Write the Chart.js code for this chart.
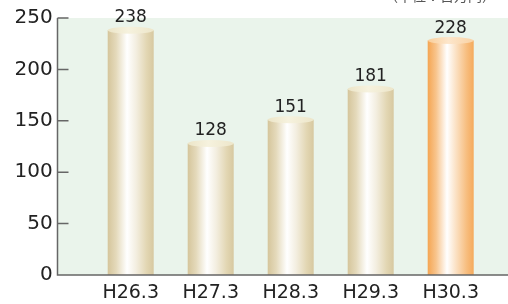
<!DOCTYPE html>
<html><head><meta charset="utf-8">
<script src="https://cdn.jsdelivr.net/npm/chart.js@4/dist/chart.umd.min.js"></script>
<style>html,body{margin:0;padding:0;background:#fff;overflow:hidden}</style>
</head><body>
<canvas id="c" width="508" height="304"></canvas>
<script>
const categories = ['H26.3', 'H27.3', 'H28.3', 'H29.3', 'H30.3'];
const values = [238, 128, 151, 181, 228];
const yTicks = [0, 50, 100, 150, 200, 250];
const unitLabel = '（単位：百万円）';
const highlightIndex = 4;

const BAR_PCT = 0.575;
const AXIS_X = 57.5;
const FONT = "'DejaVu Sans', sans-serif";
const tanStops = [[0,'#d5c59b'],[0.18,'#e4d9ba'],[0.42,'#ffffff'],[0.62,'#f3eee0'],[0.85,'#e2d6b2'],[1,'#d7c8a0']];
const orangeStops = [[0,'#f5a552'],[0.18,'#f8c48c'],[0.42,'#ffffff'],[0.62,'#fbe0c2'],[0.85,'#f7bd7e'],[1,'#f5aa5c']];

function barFill(c) {
  const chart = c.chart, xs = chart.scales && chart.scales.x;
  const i = c.dataIndex;
  const fallback = i === highlightIndex ? '#f8c48c' : '#e4d9ba';
  if (!xs || i === undefined) return fallback;
  const cx = xs.getPixelForValue(i);
  const w = xs.width / categories.length * BAR_PCT;
  if (!isFinite(cx) || !isFinite(w) || w <= 0) return fallback;
  const g = chart.ctx.createLinearGradient(cx - w / 2, 0, cx + w / 2, 0);
  (i === highlightIndex ? orangeStops : tanStops).forEach(s => g.addColorStop(s[0], s[1]));
  return g;
}

const decor = {
  id: 'decor',
  beforeDraw(chart) {
    const {ctx, scales: {y}} = chart;
    const top = y.getPixelForValue(yTicks[yTicks.length - 1]);
    const bot = y.getPixelForValue(0);
    ctx.save();
    ctx.fillStyle = '#eaf4eb';
    ctx.fillRect(AXIS_X, top, chart.width - AXIS_X, bot - top);
    ctx.fillStyle = '#555';
    ctx.font = "14px 'Noto Sans CJK JP', sans-serif";
    ctx.textAlign = 'right';
    ctx.textBaseline = 'bottom';
    ctx.fillText(unitLabel, 496, 3);
    ctx.restore();
  },
  afterDatasetsDraw(chart) {
    const {ctx, scales: {y}} = chart;
    const meta = chart.getDatasetMeta(0);
    ctx.save();
    meta.data.forEach((bar, i) => {
      const hl = i === highlightIndex;
      const w = bar.width;
      if (!isFinite(w) || !isFinite(bar.x)) return;
      const g = ctx.createLinearGradient(bar.x - w / 2, 0, bar.x + w / 2, 0);
      if (hl) { g.addColorStop(0, '#f9cf9c'); g.addColorStop(0.45, '#fde6cb'); g.addColorStop(1, '#f9d2a4'); }
      else { g.addColorStop(0, '#ece5c8'); g.addColorStop(0.45, '#f6f2de'); g.addColorStop(1, '#ede6ca'); }
      ctx.fillStyle = g;
      ctx.beginPath();
      ctx.ellipse(bar.x, bar.y, w / 2, 3.5, 0, 0, Math.PI * 2);
      ctx.fill();
      ctx.fillStyle = '#222';
      ctx.font = '17px ' + FONT;
      ctx.textAlign = 'center';
      ctx.textBaseline = 'alphabetic';
      ctx.fillText(String(values[i]), bar.x, bar.y - 8);
    });
    const top = y.getPixelForValue(yTicks[yTicks.length - 1]);
    const bot = y.getPixelForValue(0);
    ctx.strokeStyle = '#666';
    ctx.lineWidth = 1.5;
    ctx.beginPath();
    ctx.moveTo(AXIS_X, top);
    ctx.lineTo(AXIS_X, bot);
    ctx.lineTo(chart.width, bot);
    yTicks.forEach(t => {
      const py = y.getPixelForValue(t);
      ctx.moveTo(AXIS_X, py);
      ctx.lineTo(AXIS_X + 11, py);
    });
    ctx.stroke();
    ctx.restore();
  }
};

new Chart(document.getElementById('c'), {
  type: 'bar',
  data: {
    labels: categories,
    datasets: [{
      data: values,
      backgroundColor: barFill,
      borderWidth: 0,
      barPercentage: BAR_PCT,
      categoryPercentage: 1
    }]
  },
  options: {
    responsive: false,
    devicePixelRatio: 1,
    animation: false,
    layout: {padding: {top: 18, right: 17.3, bottom: 0, left: 0}},
    plugins: {legend: {display: false}, tooltip: {enabled: false}, title: {display: false}},
    scales: {
      x: {
        type: 'category',
        offset: true,
        grid: {display: false, drawTicks: true, tickLength: 7},
        border: {display: false},
        ticks: {color: '#222', font: {family: FONT, size: 19}, padding: 0, maxRotation: 0, autoSkip: false},
        afterFit(s) { s.height = 29; }
      },
      y: {
        min: yTicks[0],
        max: yTicks[yTicks.length - 1],
        afterBuildTicks(s) { s.ticks = yTicks.map(v => ({value: v})); },
        grid: {display: false, drawTicks: true, tickLength: 38},
        border: {display: false},
        ticks: {color: '#222', font: {family: FONT, size: 20}, padding: 0},
        afterFit(s) { s.width = 90.7; }
      }
    }
  },
  plugins: [decor]
});
</script>
</body></html>
